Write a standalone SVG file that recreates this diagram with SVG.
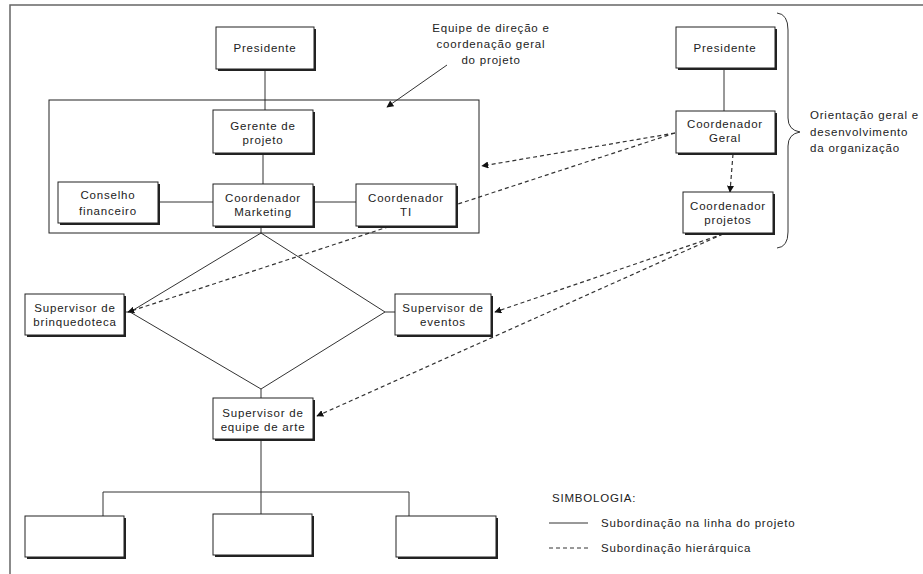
<svg xmlns="http://www.w3.org/2000/svg" width="923" height="574" viewBox="0 0 923 574">
<style>
.t{font-family:"Liberation Sans",Arial,sans-serif;font-size:11.5px;letter-spacing:0.8px;fill:#222;text-anchor:middle}
.l{text-anchor:start}
.box{fill:#fff;stroke:#222;stroke-width:1}
.sh{fill:#222}
.ln{stroke:#333;stroke-width:1;fill:none}
.ds{stroke:#333;stroke-width:1.2;fill:none;stroke-dasharray:4 3}
</style>
<defs>
<marker id="ah" viewBox="0 0 10 10" refX="9" refY="5" markerWidth="7" markerHeight="7" markerUnits="userSpaceOnUse" orient="auto">
<path d="M0,0 L10,5 L0,10 z" fill="#111"/>
</marker>
</defs>
<rect width="923" height="574" fill="#fff"/>
<path d="M10,574 V5 H923" stroke="#666" stroke-width="1.5" fill="none"/>

<g id="connectors">
<line class="ln" x1="265" y1="69" x2="265" y2="110"/>
<line class="ln" x1="263" y1="153" x2="263" y2="184"/>
<line class="ln" x1="158" y1="202" x2="213" y2="202"/>
<line class="ln" x1="313" y1="202" x2="356" y2="202"/>
<line class="ln" x1="261" y1="226" x2="261" y2="233"/>
<polygon class="ln" points="261,233 385,312 261,389 130,312"/>
<line class="ln" x1="124" y1="312" x2="130" y2="312"/>
<line class="ln" x1="385" y1="312" x2="395" y2="312"/>
<line class="ln" x1="261" y1="389" x2="261" y2="398"/>
<path class="ln" d="M261,439 V492 M103,516 V492 H409 V516 M261,492 V514"/>
<line class="ln" x1="724" y1="68" x2="724" y2="111"/>
<line class="ln" x1="447" y1="65" x2="387" y2="107" marker-end="url(#ah)"/>
<line class="ds" x1="675" y1="133" x2="482" y2="166" marker-end="url(#ah)"/>
<line class="ds" x1="675" y1="133" x2="128" y2="312" marker-end="url(#ah)"/>
<line class="ds" x1="733" y1="154" x2="730" y2="192" marker-end="url(#ah)"/>
<line class="ds" x1="723" y1="234" x2="495" y2="312" marker-end="url(#ah)"/>
<line class="ds" x1="723" y1="234" x2="317" y2="416" marker-end="url(#ah)"/>
<path class="ln" d="M777,13 Q788,14 788,30 V118 Q788,130 800,132 Q788,134 788,146 V232 Q788,247 777,248"/>
</g>

<rect x="49" y="100" width="430" height="133" fill="none" stroke="#222" stroke-width="1"/>

<g id="presidente1"><rect class="sh" x="218" y="29" width="98" height="42"/><rect class="box" x="216" y="27" width="98" height="42"/><text class="t" x="265" y="52">Presidente</text></g>
<g id="gerente"><rect class="sh" x="215" y="112" width="100" height="43"/><rect class="box" x="213" y="110" width="100" height="43"/><text class="t" x="263" y="130">Gerente de</text><text class="t" x="263" y="144">projeto</text></g>
<g id="conselho"><rect class="sh" x="60" y="184" width="100" height="41"/><rect class="box" x="58" y="182" width="100" height="41"/><text class="t" x="108" y="199">Conselho</text><text class="t" x="108" y="215">financeiro</text></g>
<g id="marketing"><rect class="sh" x="215" y="186" width="100" height="42"/><rect class="box" x="213" y="184" width="100" height="42"/><text class="t" x="263" y="202">Coordenador</text><text class="t" x="263" y="216">Marketing</text></g>
<g id="ti"><rect class="sh" x="358" y="186" width="100" height="42"/><rect class="box" x="356" y="184" width="100" height="42"/><text class="t" x="406" y="202">Coordenador</text><text class="t" x="406" y="216">TI</text></g>
<g id="presidente2"><rect class="sh" x="678" y="29" width="99" height="41"/><rect class="box" x="676" y="27" width="99" height="41"/><text class="t" x="725" y="52">Presidente</text></g>
<g id="geral"><rect class="sh" x="678" y="113" width="99" height="42"/><rect class="box" x="676" y="111" width="99" height="42"/><text class="t" x="725" y="128">Coordenador</text><text class="t" x="725" y="142">Geral</text></g>
<g id="projetos"><rect class="sh" x="685" y="194" width="90" height="41"/><rect class="box" x="683" y="192" width="90" height="41"/><text class="t" x="728" y="210">Coordenador</text><text class="t" x="728" y="224">projetos</text></g>
<g id="brinquedoteca"><rect class="sh" x="27" y="296" width="99" height="41"/><rect class="box" x="25" y="294" width="99" height="41"/><text class="t" x="75" y="312">Supervisor de</text><text class="t" x="75" y="326">brinquedoteca</text></g>
<g id="eventos"><rect class="sh" x="397" y="296" width="96" height="41"/><rect class="box" x="395" y="294" width="96" height="41"/><text class="t" x="443" y="312">Supervisor de</text><text class="t" x="443" y="326">eventos</text></g>
<g id="arte"><rect class="sh" x="215" y="400" width="100" height="41"/><rect class="box" x="213" y="398" width="100" height="41"/><text class="t" x="263" y="417">Supervisor de</text><text class="t" x="263" y="431">equipe de arte</text></g>
<g id="sub1"><rect class="sh" x="27" y="518" width="99" height="41"/><rect class="box" x="25" y="516" width="99" height="41"/></g>
<g id="sub2"><rect class="sh" x="215" y="516" width="99" height="41"/><rect class="box" x="213" y="514" width="99" height="41"/></g>
<g id="sub3"><rect class="sh" x="398" y="518" width="100" height="41"/><rect class="box" x="396" y="516" width="100" height="41"/></g>

<g id="labels">
<text class="t" x="491" y="32">Equipe de direção e</text>
<text class="t" x="491" y="48">coordenação geral</text>
<text class="t" x="491" y="64">do projeto</text>
<text class="t l" x="810" y="119">Orientação geral e</text>
<text class="t l" x="810" y="136">desenvolvimento</text>
<text class="t l" x="810" y="152">da organização</text>
</g>
<g id="legend">
<text class="t l" x="552" y="502">SIMBOLOGIA:</text>
<line class="ln" x1="549" y1="523" x2="588" y2="523"/>
<text class="t l" x="601" y="527">Subordinação na linha do projeto</text>
<line x1="549" y1="548" x2="588" y2="548" stroke="#333" stroke-width="1" stroke-dasharray="4 3"/>
<text class="t l" x="601" y="552">Subordinação hierárquica</text>
</g>
</svg>
